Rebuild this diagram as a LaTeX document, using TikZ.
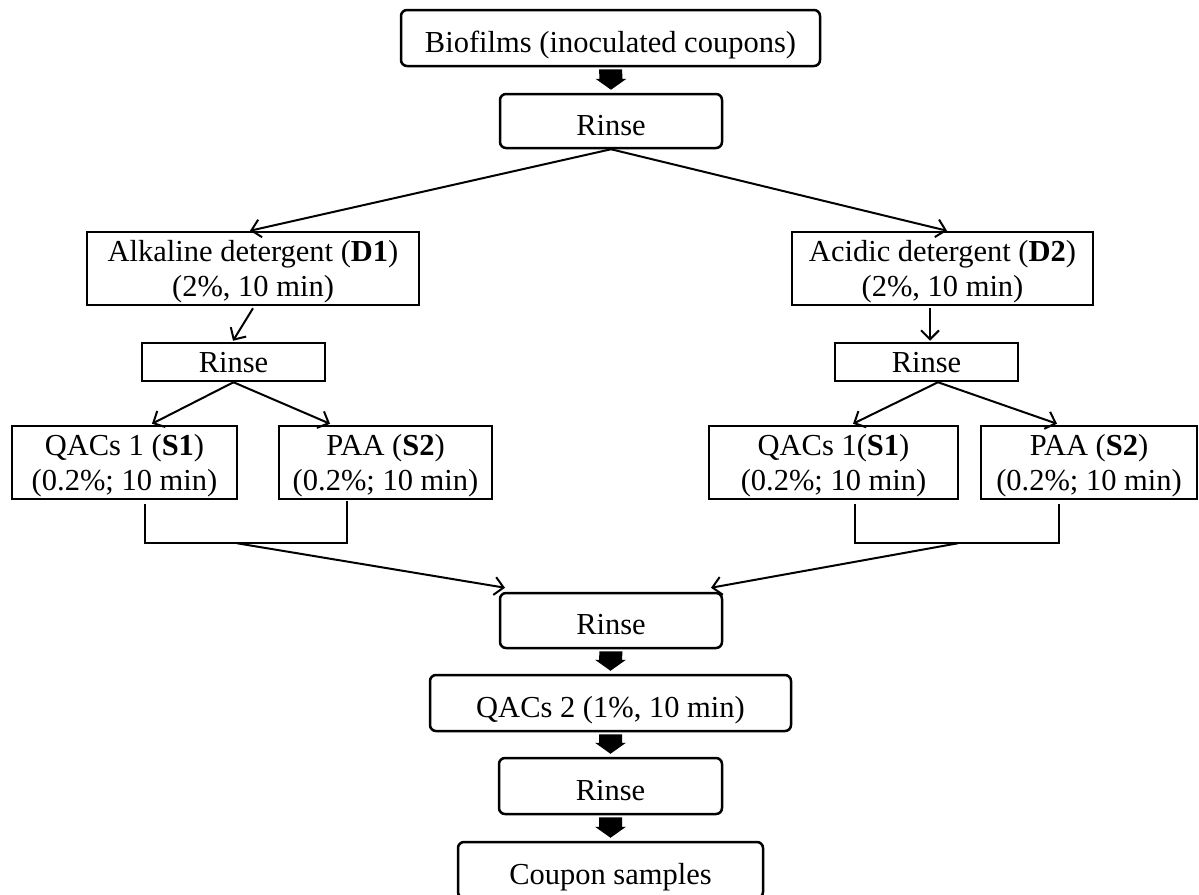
\documentclass[tikz,border=0pt]{standalone}
\usepackage{fontspec}
\setmainfont{Liberation Serif}
\usetikzlibrary{arrows.meta,calc}
\newcommand{\blockarrow}[2]{%
  \fill ($(#1.south)+(-11.5,2)$) -- ($(#1.south)+(11.5,2)$) -- ($(#2.north)+(11.5,-14)$) -- ($(#2.north)+(15.5,-14)$) -- ($(#2.north)+(0,-3)$) -- ($(#2.north)+(-15.5,-14)$) -- ($(#2.north)+(-11.5,-14)$) -- cycle;}
\begin{document}
\begin{tikzpicture}[x=1pt,y=-1pt,
  base/.style={draw, line width=2.5pt, inner sep=0pt, font=\fontsize{30.5pt}{35pt}\selectfont, align=center, text depth=0pt},
  rbox/.style={base, rounded corners=6pt, text height=28pt},
  sbox/.style={base},
  conn/.style={line width=2pt},
  arr/.style={conn, -{Straight Barb[length=9pt,width=18pt]}}]
\useasboundingbox (0,0) rectangle (1199,894);
\clip (0,0) rectangle (1199,894);
\fill[white] (0,0) rectangle (1199,894);

\node[rbox, minimum width=419pt, minimum height=56pt] (bio) at (610.5,38) {Biofilms (inoculated coupons)};
\node[rbox, minimum width=222pt, minimum height=54pt] (r1) at (611,121) {Rinse};
\node[sbox, minimum width=332pt, minimum height=73pt] (alk) at (253,268.5) {Alkaline detergent (\textbf{D1})\\(2\%, 10 min)};
\node[sbox, minimum width=301pt, minimum height=73pt] (acid) at (942.5,268.5) {Acidic detergent (\textbf{D2})\\(2\%, 10 min)};
\node[sbox, minimum width=183pt, minimum height=38pt] (rL) at (233.5,362) {Rinse};
\node[sbox, minimum width=183pt, minimum height=38pt] (rR) at (926.5,362) {Rinse};
\node[sbox, minimum width=225pt, minimum height=73pt] (qL) at (124.5,462.5) {QACs 1 (\textbf{S1})\\(0.2\%; 10 min)};
\node[sbox, minimum width=213pt, minimum height=73pt] (pL) at (385.5,462.5) {PAA (\textbf{S2})\\(0.2\%; 10 min)};
\node[sbox, minimum width=249pt, minimum height=73pt] (qR) at (833.5,462.5) {QACs 1(\textbf{S1})\\(0.2\%; 10 min)};
\node[sbox, minimum width=216pt, minimum height=73pt] (pR) at (1089,462.5) {PAA (\textbf{S2})\\(0.2\%; 10 min)};
\node[rbox, minimum width=222pt, minimum height=55pt] (r2) at (611,620.5) {Rinse};
\node[rbox, minimum width=361pt, minimum height=56pt] (q2) at (610.5,703) {QACs 2 (1\%, 10 min)};
\node[rbox, minimum width=223pt, minimum height=56pt] (r3) at (610.5,786) {Rinse};
\node[rbox, minimum width=305pt, minimum height=56pt] (cp) at (610.5,870) {Coupon samples};

\blockarrow{bio}{r1}
\blockarrow{r2}{q2}
\blockarrow{q2}{r3}
\blockarrow{r3}{cp}

\draw[arr] (r1.south) -- ($(alk.north)+(-3,0)$);
\draw[arr] (r1.south) -- ($(acid.north)+(4.5,0)$);
\draw[arr] ($(alk.south)+(0,2)$) -- ($(rL.north)+(-0.5,-1)$);
\draw[arr] ($(acid.south)+(-12.5,2)$) -- ($(rR.north)+(3.5,-1)$);
\draw[arr] (rL.south) -- ($(qL.north)+(27.5,-1)$);
\draw[arr] (rL.south) -- ($(pL.north)+(-55.5,-1)$);
\draw[arr] ($(rR.south)+(11.5,0)$) -- ($(qR.north)+(19.5,-1)$);
\draw[arr] ($(rR.south)+(11.5,0)$) -- ($(pR.north)+(-32,-1)$);

\draw[conn] ($(qL.south)+(20.5,4)$) |- ($(pL.south)+(-38.5,43)$) -- ($(pL.south)+(-38.5,1)$);
\draw[conn] ($(qR.south)+(21.5,4)$) |- ($(pR.south)+(-30,43)$) -- ($(pR.south)+(-30,4)$);
\coordinate (jL) at ($(qL.south)+(112.5,43)$);
\coordinate (jR) at ($(qR.south)+(124.5,43)$);
\draw[arr] (jL) -- ($(r2.north)+(-106,-4)$);
\draw[arr] (jR) -- ($(r2.north)+(100,-4)$);
\end{tikzpicture}
\end{document}
